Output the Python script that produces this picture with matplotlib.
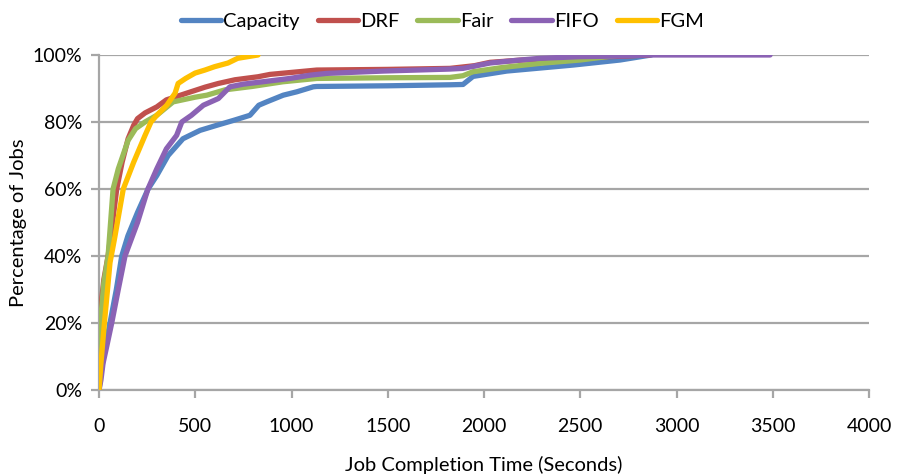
import matplotlib
matplotlib.use("Agg")
import matplotlib.pyplot as plt
from matplotlib.ticker import PercentFormatter, MultipleLocator

plt.rcParams['font.family'] = ['Lato', 'DejaVu Sans']

# CDF of job completion time per scheduler (x = seconds, y = % of jobs)
cap_x = [0, 10, 30, 57, 90, 118, 150, 200, 255, 300, 359, 436, 525, 611, 700, 784, 830, 871,
         957, 1027, 1113, 1131, 1500, 1823, 1891, 1943, 2118, 2464, 2707, 2847, 2870]
cap_y = [0, 5, 12, 20, 30, 40, 46, 53, 60, 64, 70, 75, 77.5, 79, 80.5, 82, 85, 86,
         88, 89, 90.5, 90.6, 90.8, 91.1, 91.2, 93.6, 95.2, 97, 98.5, 99.8, 100]

drf_x = [0, 3, 10, 25, 47, 70, 92, 120, 151, 180, 200, 239, 300, 350, 450, 551, 620, 706,
         826, 888, 1000, 1131, 1500, 1823, 1950, 2031, 2200, 2500, 2700, 2862]
drf_y = [0, 20, 25, 33, 40, 50, 60, 68, 75, 79, 81, 82.7, 84.5, 86.6, 88.5, 90.4, 91.5, 92.6,
         93.5, 94.2, 94.8, 95.5, 95.7, 96, 96.8, 97.8, 98.5, 99.2, 99.6, 100]

fair_x = [0, 3, 10, 25, 47, 73, 100, 130, 151, 190, 239, 300, 385, 499, 560, 655, 795, 955,
          1131, 1500, 1823, 1890, 1943, 2100, 2291, 2500, 2707]
fair_y = [0, 15, 22, 32, 40, 60, 66, 71, 74.5, 78, 80, 82, 86, 87.4, 88, 89.6, 90.6, 92,
          93, 93.2, 93.3, 93.8, 95, 96.3, 97.5, 98.5, 100]

fifo_x = [0, 10, 21, 40, 66, 100, 135, 200, 254, 300, 350, 403, 430, 480, 542, 620, 680, 750,
          850, 992, 1100, 1182, 1477, 1823, 1891, 2031, 2150, 2291, 2500, 2722, 2850, 3486]
fifo_y = [0, 3, 8, 13, 20, 30, 40, 50, 60, 66, 72, 76, 80, 82, 85, 87, 90.5, 91.3,
          92, 93, 94, 94.5, 95.2, 95.8, 96, 97.6, 98.3, 99, 99.5, 99.7, 100, 100]

fgm_x = [0, 10, 28, 57, 80, 126, 180, 239, 270, 300, 352, 395, 411, 450, 499, 550, 600, 670,
         720, 826]
fgm_y = [0, 8, 20, 38, 45, 60, 68, 76, 80, 82, 85, 88.6, 91.5, 93, 94.6, 95.5, 96.5, 97.6,
         99, 100]

series = [
    ("Capacity", cap_x, cap_y, "#5384C2"),
    ("DRF", drf_x, drf_y, "#C0504D"),
    ("Fair", fair_x, fair_y, "#9BBB59"),
    ("FIFO", fifo_x, fifo_y, "#8B62B4"),
    ("FGM", fgm_x, fgm_y, "#FFC000"),
]

fig = plt.figure(figsize=(8.97, 4.76), dpi=100)
ax = fig.add_axes([0.1104, 0.1807, 0.8584, 0.7038])

for name, xs, ys, col in series:
    ax.plot(xs, ys, color=col, lw=3.8, label=name, solid_capstyle="round",
            solid_joinstyle="round", zorder=3)

ax.set_xlim(0, 4000)
ax.set_ylim(0, 100)
ax.xaxis.set_major_locator(MultipleLocator(500))
ax.yaxis.set_major_locator(MultipleLocator(20))
ax.yaxis.set_major_formatter(PercentFormatter(xmax=100, decimals=0))

grid_c = "#A6A6A6"
ax.yaxis.grid(True, color=grid_c, lw=1.6, zorder=1)
ax.set_axisbelow(True)
for s in ("top", "right"):
    ax.spines[s].set_visible(False)
for s in ("left", "bottom"):
    ax.spines[s].set_color(grid_c)
    ax.spines[s].set_linewidth(1.6)
ax.tick_params(axis="both", colors=grid_c, width=1.6, length=6, labelsize=14,
               labelcolor="black")
ax.tick_params(axis="x", pad=14)
ax.tick_params(axis="y", pad=6)

ax.set_xlabel("Job Completion Time (Seconds)", fontsize=14.5, labelpad=15)
ax.set_ylabel("Percentage of Jobs", fontsize=14.5, labelpad=4)

fig.legend(loc="upper center", bbox_to_anchor=(0.493, 1.01), ncol=5, frameon=False,
           fontsize=14.5, handlelength=2.0, handletextpad=0.1, columnspacing=0.9)

fig.savefig("out.png", dpi=100)
